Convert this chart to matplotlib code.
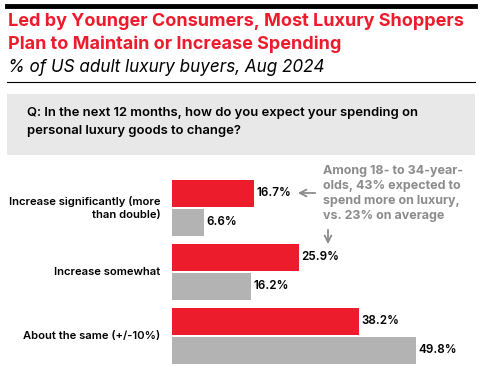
import matplotlib.pyplot as plt
from matplotlib.patches import Rectangle

plt.rcParams['font.family'] = ['Inter', 'DejaVu Sans']

categories = ["Increase significantly (more\nthan double)", "Increase somewhat", "About the same (+/-10%)"]
younger = [16.7, 25.9, 38.2]
average = [6.6, 16.2, 49.8]

RED = "#ec1c2c"
GRAY = "#b3b3b3"
W, H = 482, 370

fig = plt.figure(figsize=(W / 100, H / 100), dpi=100)


def fx(px):
    return px / W


def fy(py):
    return 1 - py / H


# header lines
fig.add_artist(plt.Line2D([fx(7), fx(475)], [fy(6), fy(6)], color="black", lw=3.5))
fig.add_artist(plt.Line2D([fx(7), fx(475)], [fy(82), fy(82)], color="black", lw=0.8))

fig.text(fx(8), fy(22), "Led by Younger Consumers, Most Luxury Shoppers",
         color=RED, fontsize=13.0, fontweight="bold", va="center")
fig.text(fx(8), fy(44), "Plan to Maintain or Increase Spending",
         color=RED, fontsize=13.0, fontweight="bold", va="center")
fig.text(fx(8), fy(67), "% of US adult luxury buyers, Aug 2024",
         color="black", fontsize=12.3, style="italic", va="center")

# question box
fig.add_artist(Rectangle((fx(7), fy(155)), fx(468), 61 / H, transform=fig.transFigure,
                         facecolor="#e8e8e8", edgecolor="none"))
fig.text(fx(27), fy(113), "Q: In the next 12 months, how do you expect your spending on",
         fontsize=9.4, fontweight="semibold", va="center")
fig.text(fx(27), fy(131), "personal luxury goods to change?",
         fontsize=9.4, fontweight="semibold", va="center")

# bars
ax = fig.add_axes([fx(172), 0, fx(300), 200 / H])
scale = 4.89  # px per percent
ax.set_xlim(0, 300 / scale)
ax.set_ylim((370 - 207.75) / 64, (170 - 207.75) / 64)
ax.axis("off")

pos = range(len(categories))
h = 27 / 64
off = 14.3 / 64
ax.barh([p - off for p in pos], younger, height=h, color=RED)
ax.barh([p + off for p in pos], average, height=h, color=GRAY)
for p, v in zip(pos, younger):
    ax.text(v + 0.5, p - off, f"{v}%", va="center", fontsize=8.4, fontweight="semibold")
for p, v in zip(pos, average):
    ax.text(v + 0.5, p + off, f"{v}%", va="center", fontsize=8.4, fontweight="semibold")
for p, c in zip(pos, categories):
    ax.text(-2.4, p, c, ha="right", va="center", fontsize=8.1, fontweight="semibold",
            linespacing=1.35)

# annotation
note = ["Among 18- to 34-year-", "olds, 43% expected to",
        "spend more on luxury,", "vs. 23% on average"]
for i, line in enumerate(note):
    fig.text(fx(323), fy(171 + 15 * i), line, color="#8c8c8c", fontsize=9,
             fontweight="bold", va="center")
fig.add_artist(plt.Annotation("", xy=(fx(295), fy(193)), xytext=(fx(318), fy(193)),
                              xycoords="figure fraction",
                              arrowprops=dict(arrowstyle="->", color="#8c8c8c", lw=1.3,
                                              mutation_scale=12)))
fig.add_artist(plt.Annotation("", xy=(fx(328), fy(247)), xytext=(fx(328), fy(227)),
                              xycoords="figure fraction",
                              arrowprops=dict(arrowstyle="->", color="#8c8c8c", lw=1.3,
                                              mutation_scale=12)))

fig.savefig("out.png", dpi=100)
